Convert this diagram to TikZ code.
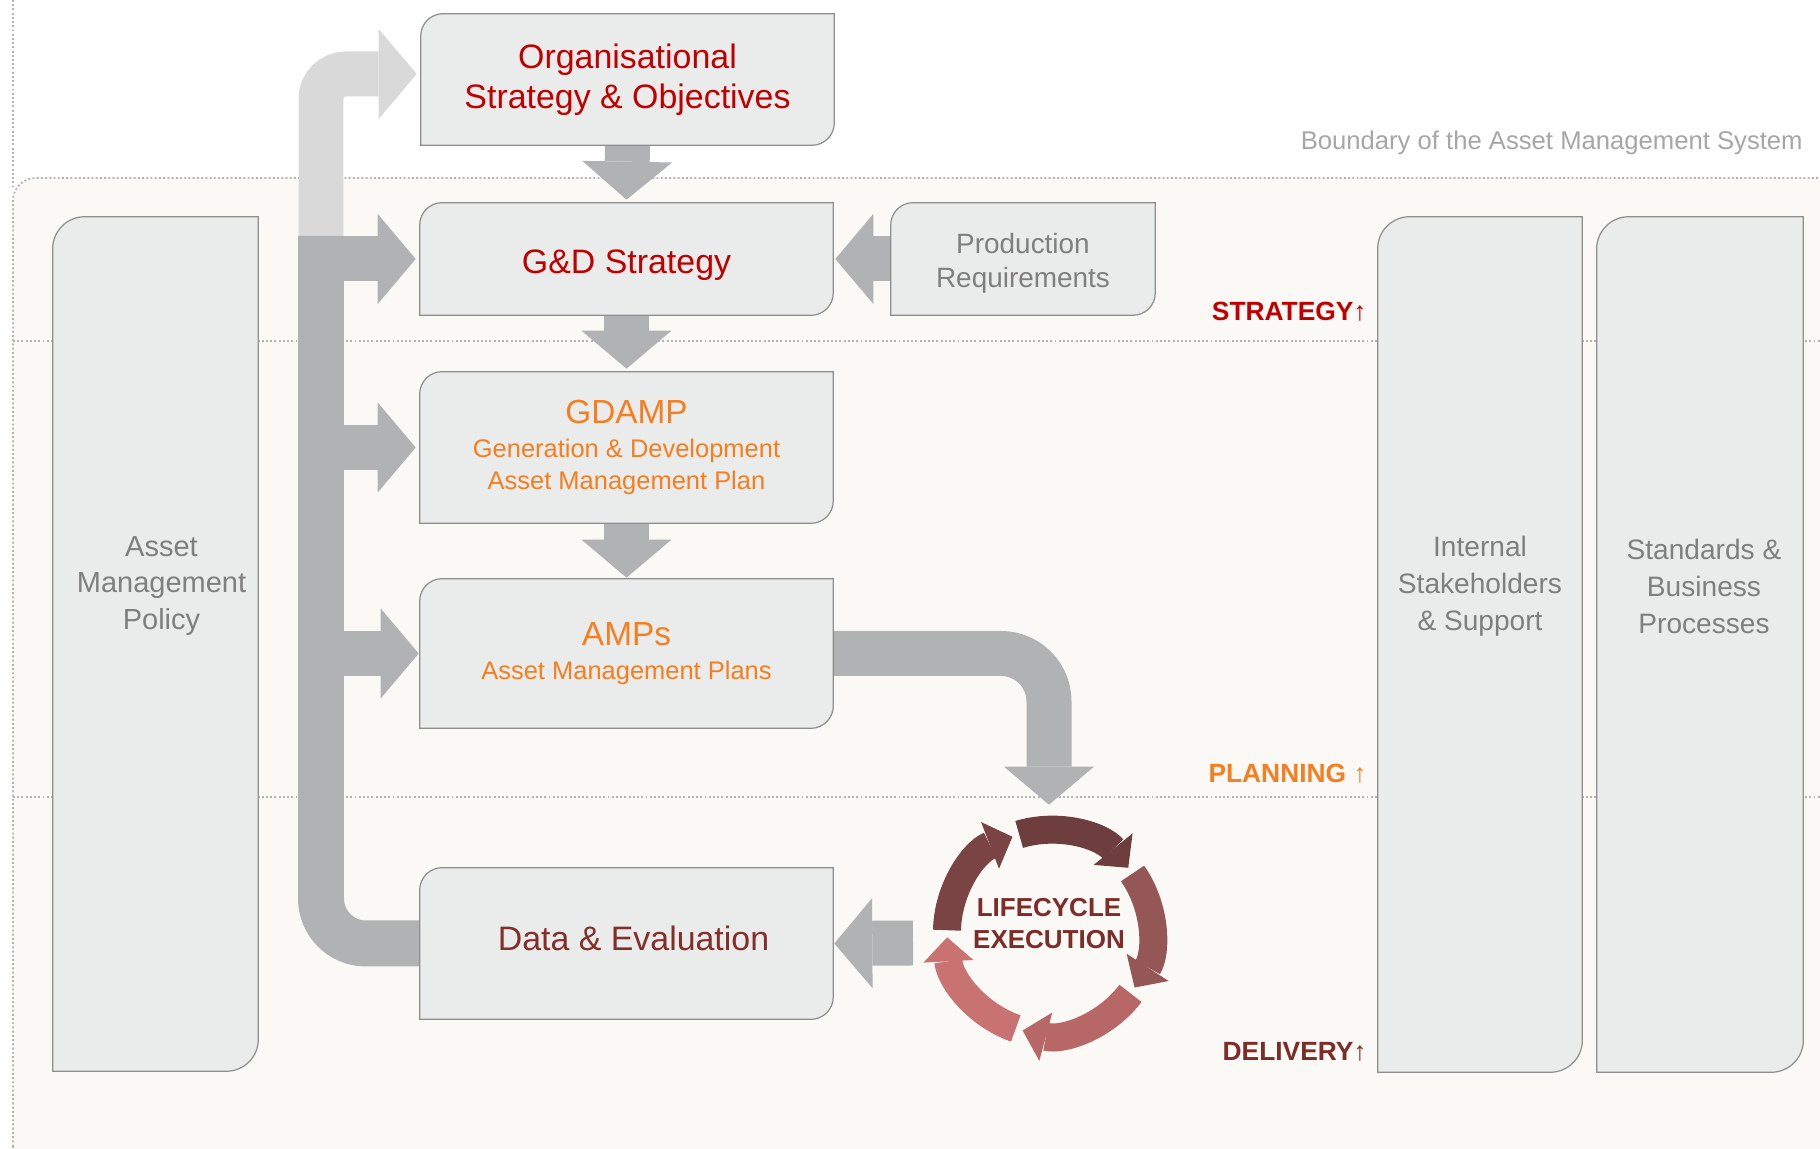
\documentclass[tikz,border=0pt]{standalone}
\usepackage{fontspec}
\setmainfont{Liberation Sans}
\usetikzlibrary{arrows.meta,calc}

\definecolor{cardfill}{HTML}{EAECEB}
\definecolor{cardline}{HTML}{8F8F8F}
\definecolor{cream}{HTML}{FAF9F6}
\definecolor{dotgrey}{HTML}{B4B4B4}
\definecolor{arrgrey}{HTML}{B1B2B4}
\definecolor{arrlight}{HTML}{D9D9D9}
\definecolor{titlered}{HTML}{C00000}
\definecolor{planorange}{HTML}{F47E20}
\definecolor{delivbrown}{HTML}{7D2C27}
\definecolor{datared}{HTML}{832E28}
\definecolor{textgrey}{HTML}{7F7F7F}
\definecolor{boundgrey}{HTML}{A6A6A6}
\definecolor{cycA}{HTML}{6E3D3D}
\definecolor{cycB}{HTML}{955656}
\definecolor{cycC}{HTML}{B86767}
\definecolor{cycD}{HTML}{C87271}
\definecolor{cycE}{HTML}{7A4444}

\pgfdeclarelayer{bg}
\pgfdeclarelayer{arrowlayer}
\pgfdeclarelayer{cardlayer}
\pgfsetlayers{bg,arrowlayer,cardlayer,main}

\begin{document}
\begin{tikzpicture}[x=0.02cm,y=0.02cm,line join=round,
    card/.style={inner sep=0pt,align=center},
    title/.style={font=\fontsize{19.3}{22.8}\selectfont},
    sidetext/.style={inner sep=0pt,align=center,text=textgrey,font=\fontsize{16}{21}\selectfont},
    levellab/.style={anchor=east,inner sep=0pt,font=\fontsize{15}{17}\selectfont},
    dotline/.style={draw=dotgrey,line width=1pt,dash pattern=on 1.1pt off 1.3pt},
    bigarrow/.style={draw=arrgrey,line width=0.9cm,-{Triangle[width=1.8cm,length=0.76cm,line width=0pt]}},
    cycarrow/.style={line width=0.56cm,-{Triangle[width=1.0cm,length=0.48cm,line width=0pt]}}]
\useasboundingbox (0,0) rectangle (1820,1149);

% boundary of the system and level lines
\begin{pgfonlayer}{bg}
  \draw[dotline,fill=cream,rounded corners=0.45cm] (13,-20) rectangle (1840,971);
  \draw[dotline] (13,1149) -- (13,960);
  \draw[dotline] (13,808) -- (1820,808);
  \draw[dotline] (13,352) -- (1820,352);
\end{pgfonlayer}
\node[anchor=east,inner sep=0pt,text=boundgrey,font=\fontsize{14.6}{17}\selectfont] (bound) at (1803,1006) {Boundary of the Asset Management System};

% boxes
\node[card,title,text=titlered,minimum width=8.26cm,minimum height=2.62cm] (org) at (627.5,1069.5) {Organisational\\Strategy \& Objectives};
\node[card,minimum width=8.26cm,minimum height=2.24cm] (gd) at (626.5,890) {};
\node[card,text=planorange,minimum width=8.26cm,minimum height=3.02cm,font=\fontsize{14.5}{18.2}\selectfont] (gdamp) at (626.5,701.5)
  {{\fontsize{19}{19}\selectfont GDAMP}\\[1pt]Generation \& Development\\Asset Management Plan};
\node[card,text=planorange,minimum width=8.26cm,minimum height=2.98cm,font=\fontsize{14.5}{19.5}\selectfont] (amps) at (626.5,495.5)
  {{\fontsize{19}{19}\selectfont AMPs}\\Asset Management Plans};
\node[card,minimum width=8.26cm,minimum height=3.02cm] (data) at (626.5,205.5) {};
\node[card,minimum width=5.28cm,minimum height=2.24cm] (prod) at (1023,890) {};
\node[card,minimum width=4.1cm,minimum height=17.08cm] (policy) at (155.5,505) {};
\node[card,minimum width=4.08cm,minimum height=17.1cm] (internal) at (1480,504.5) {};
\node[card,minimum width=4.12cm,minimum height=17.1cm] (standards) at (1700,504.5) {};
\node[title,inner sep=0pt,text=titlered] (gdtxt) at ([yshift=-0.12cm]gd.center) {G\&D Strategy};
\node[title,inner sep=0pt,text=datared] (datatxt) at ([xshift=0.14cm,yshift=0.1cm]data.center) {Data \& Evaluation};
\node[sidetext,font=\fontsize{15.9}{19.4}\selectfont] (prodtxt) at ([yshift=-0.09cm]prod.center) {Production\\Requirements};
\node[sidetext,font=\fontsize{16.5}{21}\selectfont] (policytxt) at ([xshift=0.12cm,yshift=1.16cm]policy.center) {Asset\\Management\\Policy};
\node[sidetext] (internaltxt) at ([yshift=1.16cm]internal.center) {Internal\\Stakeholders\\\& Support};
\node[sidetext] (standardstxt) at ([xshift=0.08cm,yshift=1.16cm]standards.center) {Standards \&\\Business\\Processes};

\begin{pgfonlayer}{cardlayer}
  \foreach \n/\r in {org/0.45cm,gd/0.45cm,gdamp/0.45cm,amps/0.45cm,data/0.45cm,prod/0.45cm,policy/0.64cm,internal/0.64cm,standards/0.64cm}
    \filldraw[fill=cardfill,draw=cardline,line width=0.7pt]
      ([yshift=-\r]\n.north west) arc[start angle=180,end angle=90,radius=\r]
      -- (\n.north east) -- ([yshift=\r]\n.south east)
      arc[start angle=0,end angle=-90,radius=\r] -- (\n.south west) -- cycle;
\end{pgfonlayer}

% level labels
\node[levellab,text=titlered] (strategy) at (1367,837) {\textbf{STRATEGY}↑};
\node[levellab,text=planorange] (planning) at (1367,375) {\textbf{PLANNING} ↑};
\node[levellab,text=delivbrown] (delivery) at (1367,97) {\textbf{DELIVERY}↑};

% lifecycle
\node[circle,inner sep=0pt,minimum size=4.6cm,align=center,text=delivbrown,font=\bfseries\fontsize{14.8}{18.2}\selectfont] (life) at (1049,225) {LIFECYCLE\\EXECUTION};
\coordinate (lc) at ([yshift=-0.16cm]life.center);
\foreach \a/\c in {107/cycA,35/cycB,-37/cycC,-109/cycD,179/cycE}
  \draw[cycarrow,draw=\c] ([shift={(\a:102)}]lc) arc[start angle=\a,end angle=\a-68,radius=2.04cm];

% block arrows
\coordinate (spinetop) at (321,913);
\coordinate (lifeout) at (913,206);
\begin{pgfonlayer}{arrowlayer}
  \draw[bigarrow,draw=arrlight,rounded corners=0.5cm] (spinetop) |- ([xshift=-0.08cm,yshift=0.11cm]org.west);
  \draw[draw=arrgrey,line width=0.92cm,rounded corners=0.9cm] (spinetop) |- (data.west);
  \draw[bigarrow] (spinetop |- gd.west) -- ([xshift=-0.08cm]gd.west);
  \draw[bigarrow] (spinetop |- gdamp.west) -- ([xshift=-0.08cm]gdamp.west);
  \draw[bigarrow] (spinetop |- amps.west) -- ([xshift=-0.02cm]amps.west);
  \draw[bigarrow] (org.south) -- ([yshift=0.06cm]gd.north);
  \draw[bigarrow] (gd.south) -- ([yshift=0.06cm]gdamp.north);
  \draw[bigarrow] (gdamp.south) -- ([yshift=0.02cm]amps.north);
  \draw[bigarrow] (prod.west) -- ([xshift=0.04cm]gd.east);
  \draw[bigarrow,rounded corners=0.96cm] (amps.east) -| ([yshift=0.08cm]life.north);
  \draw[bigarrow] (lifeout) -- ([xshift=0.02cm]data.east);
\end{pgfonlayer}
\end{tikzpicture}
\end{document}
